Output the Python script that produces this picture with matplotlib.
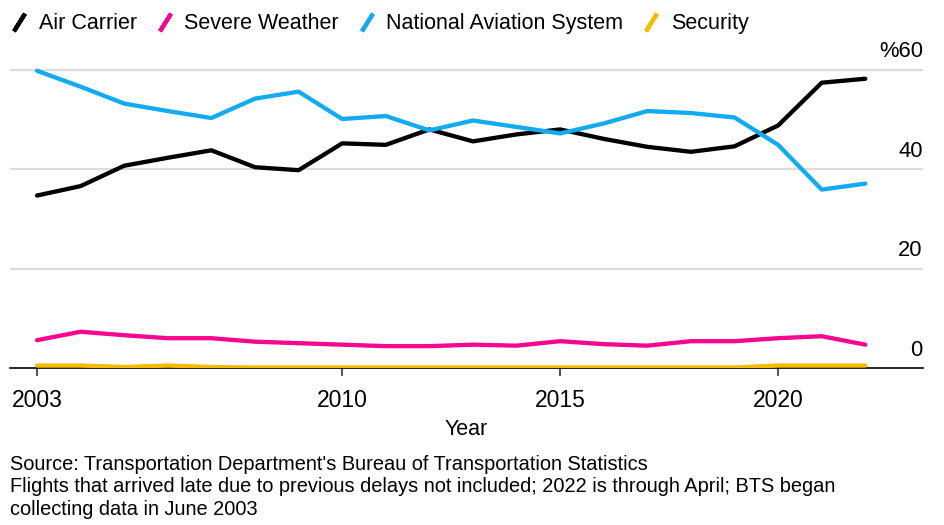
import matplotlib.pyplot as plt
from matplotlib.lines import Line2D

plt.rcParams['font.family'] = ['Liberation Sans', 'DejaVu Sans']

years = list(range(2003, 2023))
air_carrier = [34.7, 36.6, 40.7, 42.3, 43.8, 40.4, 39.8, 45.2, 44.9, 48.0,
               45.6, 47.0, 48.0, 46.1, 44.5, 43.5, 44.6, 48.8, 57.4, 58.2]
severe_weather = [5.6, 7.3, 6.6, 6.0, 6.0, 5.3, 5.0, 4.7, 4.4, 4.4,
                  4.7, 4.5, 5.4, 4.8, 4.5, 5.4, 5.4, 6.0, 6.4, 4.7]
nas = [59.8, 56.6, 53.2, 51.7, 50.3, 54.2, 55.6, 50.1, 50.7, 47.8,
       49.8, 48.5, 47.2, 49.2, 51.7, 51.3, 50.4, 44.9, 35.9, 37.1]
security = [0.5, 0.5, 0.2, 0.5, 0.2, 0.1, 0.1, 0.1, 0.1, 0.1,
            0.1, 0.1, 0.1, 0.1, 0.1, 0.1, 0.1, 0.5, 0.5, 0.5]

names = ['Air Carrier', 'Severe Weather', 'National Aviation System', 'Security']
colors = ['#000000', '#f5078f', '#12abf2', '#f5bb00']
series = [air_carrier, severe_weather, nas, security]

yticks = [0, 20, 40, 60]
ylabels = ['0', '20', '40', '%60']
xticks = [2003, 2010, 2015, 2020]

fig = plt.figure(figsize=[9.44, 5.25], dpi=100)
ax = fig.add_axes([0.0106, 0.299, 0.967, 0.587])

for i in [3, 1, 0, 2]:
    ax.plot(years, series[i], color=colors[i], lw=3.1, solid_capstyle='round',
            solid_joinstyle='round', zorder=3 if i != 3 else 2.5)

ax.set_xlim(2002.38, 2023.32)
ax.set_ylim(0, 62)

for s in ['top', 'right', 'left']:
    ax.spines[s].set_visible(False)
ax.spines['bottom'].set_color('black')
ax.spines['bottom'].set_linewidth(1.2)
ax.spines['bottom'].set_zorder(2)

ax.set_yticks([20, 40, 60])
ax.yaxis.grid(True, color='#dcdcdc', lw=1.6)
ax.set_axisbelow(True)
ax.tick_params(axis='y', left=False, labelleft=False)

for v, lab in zip(yticks, ylabels):
    ax.annotate(lab, xy=(1, v), xycoords=('axes fraction', 'data'),
                xytext=(0, 9), textcoords='offset points',
                ha='right', va='baseline', fontsize=15.8)

ax.set_xticks(xticks)
ax.set_xticklabels([str(x) for x in xticks], fontsize=16.5)
ax.tick_params(axis='x', length=6, width=1.2, color='#333333', pad=9)
ax.set_xlabel('Year', fontsize=15.5, labelpad=5)

handles = [Line2D([], [], color=c, marker=(2, 2, -32), markersize=15,
                  markeredgewidth=3.0, linestyle='none') for c in colors]
fig.legend(handles, names, loc='upper left', bbox_to_anchor=(0.0, 0.995),
           ncol=4, frameon=False, fontsize=15.5, handlelength=0.8,
           handletextpad=0.5, columnspacing=0.9, borderaxespad=0.3,
           borderpad=0.2)

fig.text(10 / 944, 1 - 470 / 525,
         "Source: Transportation Department's Bureau of Transportation Statistics",
         fontsize=14.4, va='baseline')
fig.text(10 / 944, 1 - 492.5 / 525,
         "Flights that arrived late due to previous delays not included; 2022 is through April; BTS began",
         fontsize=14.4, va='baseline')
fig.text(10 / 944, 1 - 515 / 525, "collecting data in June 2003",
         fontsize=14.4, va='baseline')

plt.savefig('out.png', dpi=100)
